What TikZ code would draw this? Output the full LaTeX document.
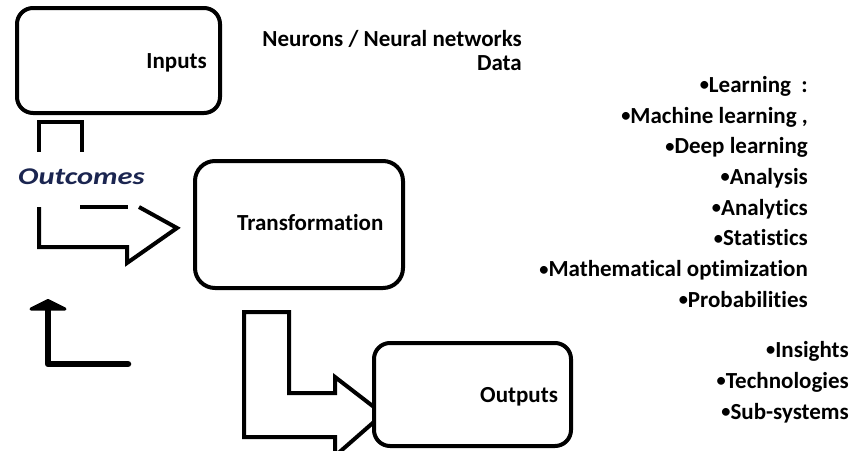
\documentclass[tikz,border=0pt]{standalone}
\usepackage{fontspec}
\usepackage{graphicx}
\setmainfont{Carlito}[Ligatures=NoCommon]
\definecolor{navy}{HTML}{1B2550}
\newcommand{\bul}{\raisebox{1.6pt}{\scalebox{0.8}{•}}}
\tikzset{
  box/.style={draw=black, line width=4pt, rounded corners=16pt, fill=white, inner sep=0pt},
  lbl/.style={inner sep=0pt, font=\fontsize{23}{28}\selectfont\bfseries},
  blockarrow/.style={draw=black, line width=4pt, line join=miter},
  ret/.style={draw=black, line width=6.5pt, line cap=round, line join=round}
}
\begin{document}
\begin{tikzpicture}[x=1pt, y=-1pt]
\useasboundingbox (0,0) rectangle (853,450);
\clip (0,0) rectangle (853,450);

% Inputs box
\node[box, minimum width=203pt, minimum height=105pt] (inbox) at (118.5,60.5) {};
\node[lbl, anchor=base east] (intext) at (207,68) {Inputs};

% bent arrow from Inputs to Transformation
\draw[blockarrow] (39,152) -- (39,122) -- (82,122) -- (82,152);
\draw[blockarrow] (39,207) -- (39,247) -- (127,247) -- (127,263) -- (177,228) -- (139,207);
\draw[blockarrow] (80,207) -- (128,207);

% Outcomes label
\node[inner sep=0pt, anchor=base west, text=navy, font=\fontsize{24}{28}\selectfont\bfseries\itshape] (outc) at (18,184) {\scalebox{1.27}[1]{Outcomes}};

% Transformation box
\node[box, rounded corners=20pt, minimum width=208pt, minimum height=127pt] (trbox) at (299,224.5) {};
\node[lbl, anchor=base west] (trtext) at (237,230) {Transformation};

% bent arrow from Transformation to Outputs
\draw[blockarrow] (335,437) -- (335,456) -- (383,414) -- (335,377) -- (335,393) -- (289,393) -- (289,312) -- (244,312) -- (244,437) -- cycle;

% Outputs box
\node[box, minimum width=197pt, minimum height=103pt] (outbox) at (472.5,394.5) {};
\node[lbl, anchor=base west] (outtext) at (480,402) {Outputs};

% return arrow
\coordinate (r1) at (128,364);
\coordinate (r2) at (48,364);
\coordinate (r3) at (48,306);
\draw[ret] (r1) -- (r2) -- (r3);
\filldraw[line width=3pt, line join=round] (31,309) -- (48,300.5) -- (65,309) -- cycle;

% top texts
\node[lbl, anchor=base east] (t1) at (522,46) {Neurons / Neural networks};
\node[lbl, anchor=base east] (t2) at (522,70.5) {Data};

% transformation list
\node[lbl, anchor=base east] (l1) at (808,92.3) {\bul Learning~~:};
\node[lbl, anchor=base east] (l2) at (808,123) {\bul Machine learning ,};
\node[lbl, anchor=base east] (l3) at (808,153.7) {\bul Deep learning};
\node[lbl, anchor=base east] (l4) at (808,184.4) {\bul Analysis};
\node[lbl, anchor=base east] (l5) at (808,215.1) {\bul Analytics};
\node[lbl, anchor=base east] (l6) at (808,245.8) {\bul Statistics};
\node[lbl, anchor=base east] (l7) at (808,276.6) {\bul Mathematical optimization};
\node[lbl, anchor=base east] (l8) at (808,307.3) {\bul Probabilities};

% outputs list
\node[lbl, anchor=base east] (o1) at (849,357) {\bul Insights};
\node[lbl, anchor=base east] (o2) at (849,388) {\bul Technologies};
\node[lbl, anchor=base east] (o3) at (849,419) {\bul Sub-systems};
\end{tikzpicture}
\end{document}
